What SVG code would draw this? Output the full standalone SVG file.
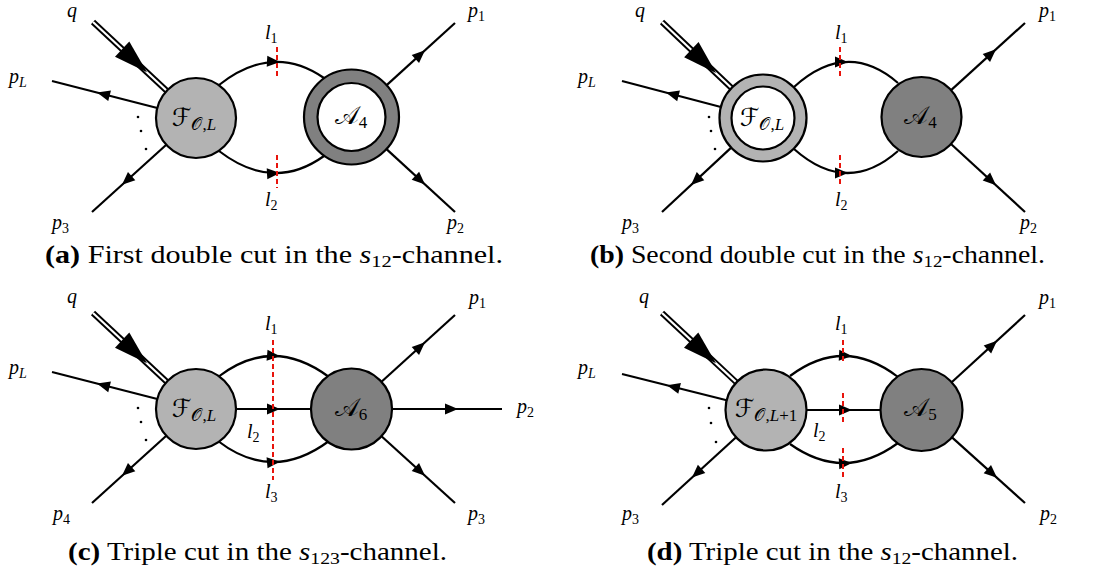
<svg xmlns="http://www.w3.org/2000/svg" width="1093" height="576" viewBox="0 0 1093 576">
<style>
.ln{stroke:#000;stroke-width:2.2;fill:none}
.dbl{stroke:#000;stroke-width:6;fill:none}
.dblw{stroke:#fff;stroke-width:2.2;fill:none}
.cut{stroke:#e8140c;stroke-width:2;stroke-dasharray:5 3;fill:none}
.fl{fill:#b3b3b3;stroke:#000;stroke-width:2.2}
.fd{fill:#808080;stroke:#000;stroke-width:2.2}
.fw{fill:#fff;stroke:#000;stroke-width:2.2}
.m{font-family:"Liberation Serif",serif;font-style:italic;font-size:20px;fill:#000}
.s{font-style:normal;font-size:14px}
.si{font-style:italic;font-size:14px}
.scr{font-family:"DejaVu Serif","DejaVu Sans","Noto Sans",serif;font-size:25px;fill:#000}
.sc{font-size:17px}
.ms{font-family:"Liberation Serif",serif;font-size:17px;font-style:normal}
.mi{font-family:"Liberation Serif",serif;font-size:17px;font-style:italic}
.cap{font-family:"Liberation Serif",serif;font-size:25px;fill:#000}
</style>
<defs>
<path id="ah" d="M0,0 L-13,-5.5 L-13,5.5 Z"/>
<path id="bah" d="M0,0 L-34,-10.5 L-34,10.5 Z"/>
</defs>

<!-- ===== Panel (a) ===== -->
<g id="panel-a">
<g id="a-connectors">
<path class="dbl" d="M93,22 L166.7,90.7"/>
<path class="dblw" d="M93,22 L166.7,90.7"/>
<use href="#bah" transform="translate(147,72.3) rotate(43)"/>
<path class="ln" d="M52,81 L157.3,108"/>
<use href="#ah" transform="translate(97,92.5) rotate(194.4)"/>
<path class="ln" d="M92,212 L166.3,144.8"/>
<use href="#ah" transform="translate(122,184.8) rotate(137.9)"/>
<path class="ln" d="M219,85 Q273,42.5 324,78"/>
<path class="ln" d="M219,151 Q273,192.5 324,156"/>
<use href="#ah" transform="translate(280,62) rotate(3)"/>
<use href="#ah" transform="translate(280,173) rotate(-3)"/>
<path class="ln" d="M386.7,85.1 L455,23"/>
<use href="#ah" transform="translate(425,50.3) rotate(-42.2)"/>
<path class="ln" d="M386.5,149.1 L455,212"/>
<use href="#ah" transform="translate(425,184.5) rotate(42.5)"/>
<path class="cut" d="M277,47 V79 M277,155 V188"/>
</g>
<g id="a-F">
<circle class="fl" cx="196" cy="118" r="40"/>
<text class="scr" x="194" y="126" text-anchor="middle">ℱ<tspan class="sc" dy="4">𝒪</tspan><tspan class="ms">,</tspan><tspan class="mi">L</tspan></text>
</g>
<g id="a-A4">
<circle class="fd" cx="351.5" cy="117" r="47.5"/>
<circle class="fw" cx="351.5" cy="117" r="34"/>
<text class="scr" x="351" y="124" text-anchor="middle">𝒜<tspan class="ms" dy="4">4</tspan></text>
</g>
<g id="a-labels">
<text class="m" x="67" y="17">q</text>
<text class="m" x="9" y="83">p<tspan class="si" dy="4">L</tspan></text>
<text class="m" x="52" y="229">p<tspan class="s" dy="4">3</tspan></text>
<text class="m" x="468" y="17">p<tspan class="s" dy="4">1</tspan></text>
<text class="m" x="447" y="229">p<tspan class="s" dy="4">2</tspan></text>
<text class="m" x="265" y="39">l<tspan class="s" dy="4">1</tspan></text>
<text class="m" x="265" y="206">l<tspan class="s" dy="4">2</tspan></text>
<circle cx="138" cy="117" r="1.3"/><circle cx="141" cy="131" r="1.3"/><circle cx="146" cy="149" r="1.3"/>
<text class="cap" x="45" y="263" textLength="458" lengthAdjust="spacingAndGlyphs"><tspan font-weight="bold">(a)</tspan> First double cut in the <tspan font-style="italic">s</tspan><tspan font-size="17" dy="4">12</tspan><tspan dy="-4">-channel.</tspan></text>
</g>
</g>

<!-- ===== Panel (b) ===== -->
<g id="panel-b">
<g id="b-connectors">
<path class="dbl" d="M662,22 L731.5,88"/>
<path class="dblw" d="M662,22 L731.5,88"/>
<use href="#bah" transform="translate(716,73) rotate(43.5)"/>
<path class="ln" d="M622,81 L720.9,107"/>
<use href="#ah" transform="translate(666,92.6) rotate(194.7)"/>
<path class="ln" d="M662,212 L731.2,147.6"/>
<use href="#ah" transform="translate(691,185) rotate(137.1)"/>
<path class="ln" d="M794,87 Q847,39 898,83"/>
<path class="ln" d="M794,149 Q847,196 898,151"/>
<use href="#ah" transform="translate(848,62)"/>
<use href="#ah" transform="translate(848,173)"/>
<path class="ln" d="M951.1,90.1 L1025,23"/>
<use href="#ah" transform="translate(996,49.3) rotate(-42.2)"/>
<path class="ln" d="M951,144 L1025,212"/>
<use href="#ah" transform="translate(996,185.3) rotate(42.5)"/>
<path class="cut" d="M840,47 V78 M840,155 V187"/>
</g>
<g id="b-F">
<circle class="fl" cx="763" cy="118" r="43.5"/>
<circle class="fw" cx="763" cy="118" r="31.5"/>
<text class="scr" x="762" y="126" text-anchor="middle">ℱ<tspan class="sc" dy="4">𝒪</tspan><tspan class="ms">,</tspan><tspan class="mi">L</tspan></text>
</g>
<g id="b-A4">
<circle class="fd" cx="921.5" cy="117" r="40"/>
<text class="scr" x="920.5" y="124" text-anchor="middle">𝒜<tspan class="ms" dy="4">4</tspan></text>
</g>
<g id="b-labels">
<text class="m" x="635" y="17">q</text>
<text class="m" x="578" y="83">p<tspan class="si" dy="4">L</tspan></text>
<text class="m" x="622" y="229">p<tspan class="s" dy="4">3</tspan></text>
<text class="m" x="1039" y="17">p<tspan class="s" dy="4">1</tspan></text>
<text class="m" x="1020" y="229">p<tspan class="s" dy="4">2</tspan></text>
<text class="m" x="835" y="39">l<tspan class="s" dy="4">1</tspan></text>
<text class="m" x="835" y="206">l<tspan class="s" dy="4">2</tspan></text>
<circle cx="709" cy="117" r="1.3"/><circle cx="711" cy="131" r="1.3"/><circle cx="715" cy="149" r="1.3"/>
<text class="cap" x="590" y="263" textLength="455" lengthAdjust="spacingAndGlyphs"><tspan font-weight="bold">(b)</tspan> Second double cut in the <tspan font-style="italic">s</tspan><tspan font-size="17" dy="4">12</tspan><tspan dy="-4">-channel.</tspan></text>
</g>
</g>

<!-- ===== Panel (c) ===== -->
<g id="panel-c">
<g id="c-connectors">
<path class="dbl" d="M93,313 L166.7,381.7"/>
<path class="dblw" d="M93,313 L166.7,381.7"/>
<use href="#bah" transform="translate(147,363.3) rotate(43)"/>
<path class="ln" d="M52,372 L157.3,399"/>
<use href="#ah" transform="translate(97,383.6) rotate(194.4)"/>
<path class="ln" d="M92,503 L166.3,435.8"/>
<use href="#ah" transform="translate(122,475.8) rotate(137.9)"/>
<path class="ln" d="M218,377 Q272.5,335 329,377"/>
<path class="ln" d="M236,409 H311"/>
<path class="ln" d="M218,441 Q272.5,483 329,441"/>
<use href="#ah" transform="translate(280,356.3) rotate(5)"/>
<use href="#ah" transform="translate(280,409)"/>
<use href="#ah" transform="translate(280,461.7) rotate(-5)"/>
<path class="ln" d="M381.5,381.8 L455,315"/>
<use href="#ah" transform="translate(425,342.3) rotate(-42.2)"/>
<path class="ln" d="M392,409 H502"/>
<use href="#ah" transform="translate(458,409)"/>
<path class="ln" d="M381.5,436.2 L455,503"/>
<use href="#ah" transform="translate(425,475.7) rotate(42.2)"/>
<path class="cut" d="M273,340 V480"/>
</g>
<g id="c-F">
<circle class="fl" cx="196" cy="409" r="40"/>
<text class="scr" x="194" y="417" text-anchor="middle">ℱ<tspan class="sc" dy="4">𝒪</tspan><tspan class="ms">,</tspan><tspan class="mi">L</tspan></text>
</g>
<g id="c-A6">
<circle class="fd" cx="351.5" cy="409" r="40.5"/>
<text class="scr" x="351" y="416" text-anchor="middle">𝒜<tspan class="ms" dy="4">6</tspan></text>
</g>
<g id="c-labels">
<text class="m" x="67" y="303">q</text>
<text class="m" x="9" y="374">p<tspan class="si" dy="4">L</tspan></text>
<text class="m" x="53" y="520">p<tspan class="s" dy="4">4</tspan></text>
<text class="m" x="469" y="304">p<tspan class="s" dy="4">1</tspan></text>
<text class="m" x="517" y="413">p<tspan class="s" dy="4">2</tspan></text>
<text class="m" x="468" y="520">p<tspan class="s" dy="4">3</tspan></text>
<text class="m" x="265" y="330">l<tspan class="s" dy="4">1</tspan></text>
<text class="m" x="247" y="438">l<tspan class="s" dy="4">2</tspan></text>
<text class="m" x="265" y="498">l<tspan class="s" dy="4">3</tspan></text>
<circle cx="138" cy="408" r="1.3"/><circle cx="141" cy="422" r="1.3"/><circle cx="146" cy="440" r="1.3"/>
<text class="cap" x="68" y="560" textLength="379" lengthAdjust="spacingAndGlyphs"><tspan font-weight="bold">(c)</tspan> Triple cut in the <tspan font-style="italic">s</tspan><tspan font-size="17" dy="4">123</tspan><tspan dy="-4">-channel.</tspan></text>
</g>
</g>

<!-- ===== Panel (d) ===== -->
<g id="panel-d">
<g id="d-connectors">
<path class="dbl" d="M662,313 L736.4,382.4"/>
<path class="dblw" d="M662,313 L736.4,382.4"/>
<use href="#bah" transform="translate(716,363.3) rotate(43)"/>
<path class="ln" d="M622,374 L726.7,400.2"/>
<use href="#ah" transform="translate(667,385.3) rotate(194)"/>
<path class="ln" d="M662,505 L736.1,437.3"/>
<use href="#ah" transform="translate(692,477.6) rotate(137.6)"/>
<path class="ln" d="M790,376 Q844,335.5 898,377"/>
<path class="ln" d="M806.5,410 H880.5"/>
<path class="ln" d="M790,444 Q844,482.5 898,443"/>
<use href="#ah" transform="translate(852,356) rotate(3)"/>
<use href="#ah" transform="translate(852,410)"/>
<use href="#ah" transform="translate(852,463) rotate(-3)"/>
<path class="ln" d="M951.7,382.3 L1025,315"/>
<use href="#ah" transform="translate(997,340.7) rotate(-42.5)"/>
<path class="ln" d="M952,437.4 L1025,503"/>
<use href="#ah" transform="translate(997,477.8) rotate(42)"/>
<path class="cut" d="M843,340 V363 M843,393 V425 M843,448 V480"/>
</g>
<g id="d-F">
<circle class="fl" cx="766" cy="410" r="40.5"/>
<text class="scr" x="766" y="417" text-anchor="middle">ℱ<tspan class="sc" dy="4">𝒪</tspan><tspan class="ms">,</tspan><tspan class="mi">L</tspan><tspan class="ms">+1</tspan></text>
</g>
<g id="d-A5">
<circle class="fd" cx="921.5" cy="410" r="41"/>
<text class="scr" x="920.5" y="416" text-anchor="middle">𝒜<tspan class="ms" dy="4">5</tspan></text>
</g>
<g id="d-labels">
<text class="m" x="639" y="303">q</text>
<text class="m" x="578" y="374">p<tspan class="si" dy="4">L</tspan></text>
<text class="m" x="622" y="520">p<tspan class="s" dy="4">3</tspan></text>
<text class="m" x="1039" y="304">p<tspan class="s" dy="4">1</tspan></text>
<text class="m" x="1040" y="520">p<tspan class="s" dy="4">2</tspan></text>
<text class="m" x="835" y="330">l<tspan class="s" dy="4">1</tspan></text>
<text class="m" x="813" y="437">l<tspan class="s" dy="4">2</tspan></text>
<text class="m" x="835" y="498">l<tspan class="s" dy="4">3</tspan></text>
<circle cx="709" cy="408" r="1.3"/><circle cx="711" cy="423" r="1.3"/><circle cx="716" cy="442" r="1.3"/>
<text class="cap" x="647" y="560" textLength="371" lengthAdjust="spacingAndGlyphs"><tspan font-weight="bold">(d)</tspan> Triple cut in the <tspan font-style="italic">s</tspan><tspan font-size="17" dy="4">12</tspan><tspan dy="-4">-channel.</tspan></text>
</g>
</g>
</svg>
